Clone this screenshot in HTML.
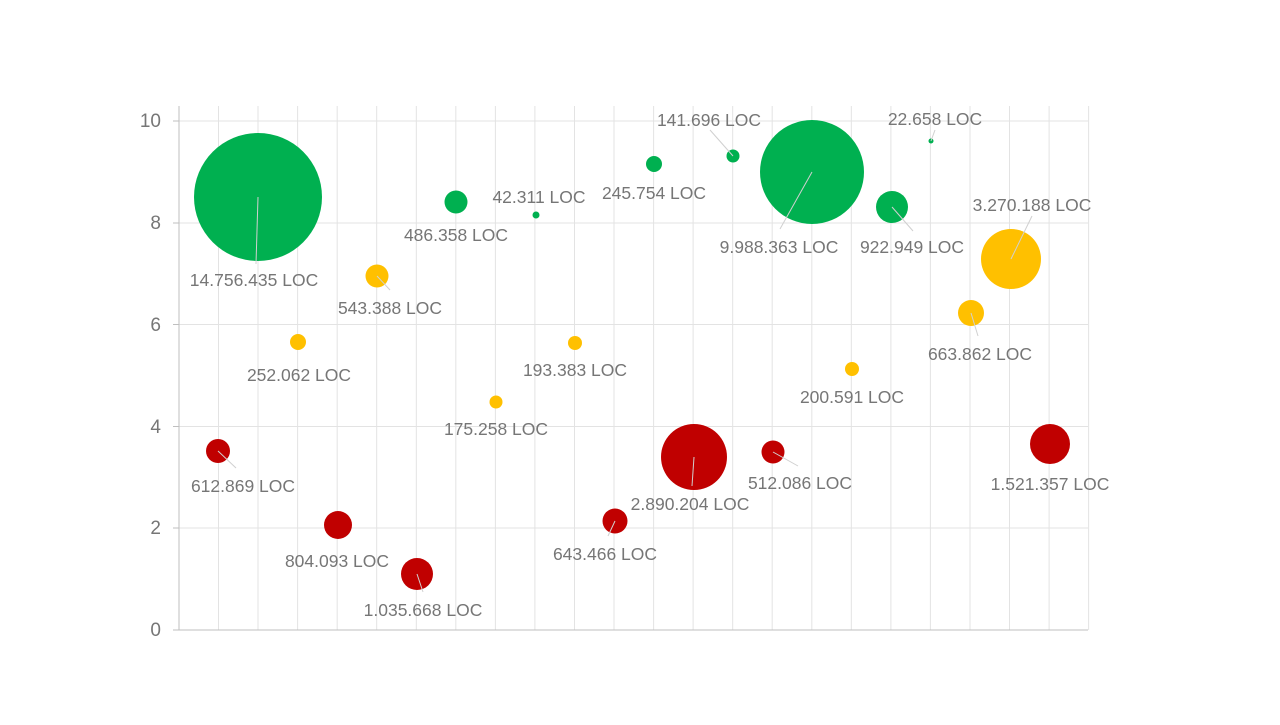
<!DOCTYPE html>
<html><head><meta charset="utf-8"><style>
html,body{margin:0;padding:0;background:#fff}
svg text{font-family:"Liberation Sans","DejaVu Sans",sans-serif;fill:#767676}
</style></head><body>
<svg width="1280" height="720" viewBox="0 0 1280 720" xmlns="http://www.w3.org/2000/svg">
<g stroke="#e3e3e3" stroke-width="1">
<line x1="179" y1="121" x2="1088" y2="121"/><line x1="179" y1="223" x2="1088" y2="223"/>
<line x1="179" y1="324.5" x2="1088" y2="324.5"/><line x1="179" y1="426.5" x2="1088" y2="426.5"/>
<line x1="179" y1="528" x2="1088" y2="528"/>
<line x1="218.5" y1="106" x2="218.5" y2="630"/><line x1="258" y1="106" x2="258" y2="630"/>
<line x1="297.6" y1="106" x2="297.6" y2="630"/><line x1="337.2" y1="106" x2="337.2" y2="630"/>
<line x1="376.7" y1="106" x2="376.7" y2="630"/><line x1="416.3" y1="106" x2="416.3" y2="630"/>
<line x1="455.8" y1="106" x2="455.8" y2="630"/><line x1="495.4" y1="106" x2="495.4" y2="630"/>
<line x1="534.9" y1="106" x2="534.9" y2="630"/><line x1="574.5" y1="106" x2="574.5" y2="630"/>
<line x1="614" y1="106" x2="614" y2="630"/><line x1="653.6" y1="106" x2="653.6" y2="630"/>
<line x1="693.1" y1="106" x2="693.1" y2="630"/><line x1="732.7" y1="106" x2="732.7" y2="630"/>
<line x1="772.2" y1="106" x2="772.2" y2="630"/><line x1="811.8" y1="106" x2="811.8" y2="630"/>
<line x1="851.3" y1="106" x2="851.3" y2="630"/><line x1="890.9" y1="106" x2="890.9" y2="630"/>
<line x1="930.4" y1="106" x2="930.4" y2="630"/><line x1="970" y1="106" x2="970" y2="630"/>
<line x1="1009.5" y1="106" x2="1009.5" y2="630"/><line x1="1049.1" y1="106" x2="1049.1" y2="630"/>
<line x1="1088.6" y1="106" x2="1088.6" y2="630"/>
</g>
<g stroke="#bfbfbf" stroke-width="1">
<line x1="179" y1="106" x2="179" y2="630"/><line x1="173" y1="630" x2="1088" y2="630"/>
<line x1="173" y1="121" x2="179" y2="121"/><line x1="173" y1="223" x2="179" y2="223"/>
<line x1="173" y1="324.5" x2="179" y2="324.5"/><line x1="173" y1="426.5" x2="179" y2="426.5"/>
<line x1="173" y1="528" x2="179" y2="528"/>
</g>
<g font-size="19" text-anchor="end">
<text x="161" y="127">10</text><text x="161" y="229">8</text><text x="161" y="331">6</text>
<text x="161" y="433">4</text><text x="161" y="534">2</text><text x="161" y="636">0</text>
</g>
<g>
<circle cx="258" cy="197" r="64" fill="#00b050"/>
<circle cx="218" cy="451" r="12" fill="#c00000"/>
<circle cx="298" cy="342" r="8" fill="#ffc000"/>
<circle cx="338" cy="525" r="14" fill="#c00000"/>
<circle cx="377" cy="276" r="11.5" fill="#ffc000"/>
<circle cx="417" cy="574" r="16" fill="#c00000"/>
<circle cx="456" cy="202" r="11.5" fill="#00b050"/>
<circle cx="496" cy="402" r="6.5" fill="#ffc000"/>
<circle cx="536" cy="215" r="3.5" fill="#00b050"/>
<circle cx="575" cy="343" r="7" fill="#ffc000"/>
<circle cx="615" cy="521" r="12.5" fill="#c00000"/>
<circle cx="654" cy="164" r="8" fill="#00b050"/>
<circle cx="694" cy="457" r="33" fill="#c00000"/>
<circle cx="733" cy="156" r="6.5" fill="#00b050"/>
<circle cx="773" cy="452" r="11.5" fill="#c00000"/>
<circle cx="812" cy="172" r="52" fill="#00b050"/>
<circle cx="852" cy="369" r="7" fill="#ffc000"/>
<circle cx="892" cy="207" r="16" fill="#00b050"/>
<circle cx="931" cy="141" r="2.5" fill="#00b050"/>
<circle cx="971" cy="313" r="13" fill="#ffc000"/>
<circle cx="1011" cy="259" r="30" fill="#ffc000"/>
<circle cx="1050" cy="444" r="20" fill="#c00000"/>
</g>
<g stroke="#d0d0d0" stroke-width="1">
<line x1="258" y1="197" x2="256" y2="264"/>
<line x1="218" y1="451" x2="236" y2="468"/>
<line x1="377" y1="276" x2="390" y2="290"/>
<line x1="417" y1="574" x2="423" y2="592"/>
<line x1="615" y1="521" x2="608" y2="536"/>
<line x1="694" y1="457" x2="692" y2="486"/>
<line x1="733" y1="156" x2="710" y2="130"/>
<line x1="773" y1="452" x2="798" y2="466"/>
<line x1="812" y1="172" x2="780" y2="229"/>
<line x1="892" y1="207" x2="913" y2="231"/>
<line x1="931" y1="141" x2="935" y2="130"/>
<line x1="971" y1="313" x2="978" y2="336"/>
<line x1="1011" y1="259" x2="1032" y2="216"/>
</g>
<g font-size="17.5" text-anchor="middle">
<text x="254" y="286">14.756.435 LOC</text>
<text x="243" y="492">612.869 LOC</text>
<text x="299" y="381">252.062 LOC</text>
<text x="337" y="567">804.093 LOC</text>
<text x="390" y="314">543.388 LOC</text>
<text x="423" y="616">1.035.668 LOC</text>
<text x="456" y="241">486.358 LOC</text>
<text x="496" y="435">175.258 LOC</text>
<text x="539" y="203">42.311 LOC</text>
<text x="575" y="376">193.383 LOC</text>
<text x="605" y="560">643.466 LOC</text>
<text x="654" y="199">245.754 LOC</text>
<text x="690" y="510">2.890.204 LOC</text>
<text x="709" y="126">141.696 LOC</text>
<text x="800" y="489">512.086 LOC</text>
<text x="779" y="253">9.988.363 LOC</text>
<text x="852" y="403">200.591 LOC</text>
<text x="912" y="253">922.949 LOC</text>
<text x="935" y="125">22.658 LOC</text>
<text x="980" y="360">663.862 LOC</text>
<text x="1032" y="211">3.270.188 LOC</text>
<text x="1050" y="490">1.521.357 LOC</text>
</g>
</svg>
</body></html>
